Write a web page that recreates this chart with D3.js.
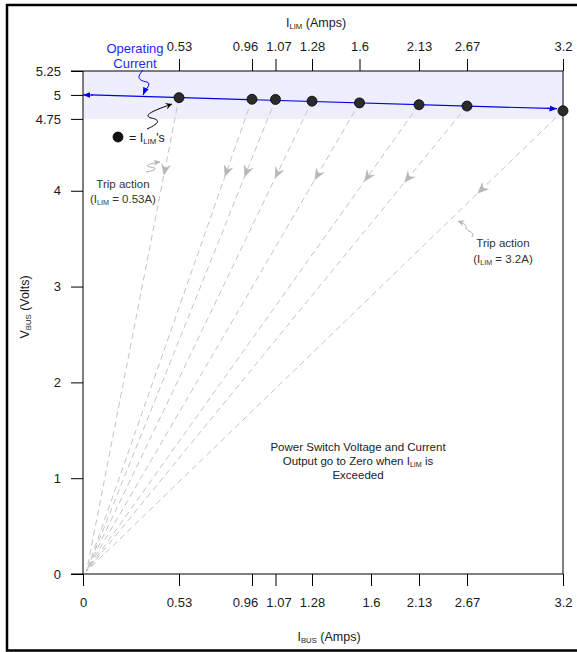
<!DOCTYPE html>
<html>
<head>
<meta charset="utf-8">
<script src="https://cdn.jsdelivr.net/npm/d3@7"></script>
<style>
	body { margin: 0; background: #fff; }
	svg { display: block; font-family: "Liberation Sans", Arial, sans-serif; }
</style>
</head>
<body>
<div id="chart"></div>
<script>
// values
var ilimTicks = [0.53, 0.96, 1.07, 1.28, 1.6, 2.13, 2.67, 3.2];
var ibusTicks = [0, 0.53, 0.96, 1.07, 1.28, 1.6, 2.13, 2.67, 3.2];
var vbusTicks = [0, 1, 2, 3, 4, 4.75, 5, 5.25];
var tripCurrents = [0.53, 0.96, 1.07, 1.28, 1.6, 2.13, 2.67, 3.2];
var tripVolts = [4.972, 4.955, 4.953, 4.935, 4.917, 4.898, 4.884, 4.835];
var operatingLine = [[0, 5.0], [3.2, 4.855]];
var operatingBand = [4.75, 5.25];
var collapsePoint = [0.02, 0.03];

var width = 577, height = 652;
var plotLeft = 83, plotRight = 563, plotTop = 71, plotBottom = 574;

var svg = d3.select("#chart").append("svg")
	.attr("width", width)
	.attr("height", height);

// the drawing's current axes are hand spaced, so the scales are piecewise
var xTop = d3.scaleLinear()
	.domain([0].concat(ilimTicks))
	.range([0, 96, 169, 192.5, 229, 276.5, 336, 384, 480].map(function(d){ return plotLeft + d; }));

var xBottom = d3.scaleLinear()
	.domain(ibusTicks)
	.range([0, 96, 169, 192.5, 229, 288, 336, 384, 480].map(function(d){ return plotLeft + d; }));

var y = d3.scaleLinear().domain([0, 5.25]).range([plotBottom, plotTop]);

// crowded labels are nudged apart, as in the original
var labelNudge = {0.96: -7, 1.07: 3};

var defs = svg.append("defs");

function marker(id, color, path, w, h)
{
	defs.append("marker")
		.attr("id", id)
		.attr("viewBox", "-10 -5 12 10")
		.attr("refX", 0)
		.attr("refY", 0)
		.attr("markerWidth", w)
		.attr("markerHeight", h)
		.attr("markerUnits", "userSpaceOnUse")
		.attr("orient", "auto")
		.append("path")
			.attr("d", path)
			.attr("fill", color);
}
marker("blueArrow", "#0000e6", "M0,0 L-10,-4 L-10,4 Z", 9, 7.5);
marker("blackArrow", "#000", "M0,0 L-10,-5 L-6,0 L-10,5 Z", 8, 8);
marker("grayArrow", "#b0b0b0", "M0,0 L-10,-5 L-6,0 L-10,5 Z", 8, 8);

// outer frame (its right side runs off the picture)
svg.append("rect")
	.attr("x", 7).attr("y", 5)
	.attr("width", 575).attr("height", 645.5)
	.attr("fill", "none")
	.attr("stroke", "#000")
	.attr("stroke-width", 2.5);

// operating band
svg.append("rect")
	.attr("x", plotLeft)
	.attr("y", y(operatingBand[1]))
	.attr("width", plotRight - plotLeft)
	.attr("height", y(operatingBand[0]) - y(operatingBand[1]))
	.attr("fill", "#eeeefd");

// dashed trip paths from each limit to zero
var trips = tripCurrents.map(function(c, i){ return {i: c, v: tripVolts[i]}; });

svg.append("g")
	.selectAll("line")
	.data(trips)
	.enter()
		.append("line")
			.attr("x1", function(d){ return xTop(d.i); })
			.attr("y1", function(d){ return y(d.v); })
			.attr("x2", xTop(collapsePoint[0]))
			.attr("y2", y(collapsePoint[1]))
			.attr("stroke", "#c4c4c4")
			.attr("stroke-width", 1)
			.attr("stroke-dasharray", "6,4");

svg.append("g")
	.selectAll("path")
	.data(trips)
	.enter()
		.append("path")
			.attr("d", "M0,0 L-12,-5 L-8,0 L-12,5 Z")
			.attr("fill", "#b8b8b8")
			.attr("transform", function(d)
			{
				var x1 = xTop(d.i), y1 = y(d.v);
				var x2 = xTop(collapsePoint[0]), y2 = y(collapsePoint[1]);
				var f = d.i == 3.2 ? 0.18 : 0.165;
				var a = Math.atan2(y2 - y1, x2 - x1) * 180 / Math.PI;
				return "translate(" + (x1 + (x2 - x1) * f) + "," + (y1 + (y2 - y1) * f) + ") rotate(" + a + ")";
			});

// axes lines
var axes = svg.append("g").attr("stroke", "#000").attr("stroke-width", 1).attr("fill", "none");
axes.append("line").attr("x1", plotLeft).attr("x2", plotLeft).attr("y1", plotTop).attr("y2", plotBottom);
axes.append("line").attr("x1", plotRight).attr("x2", plotRight).attr("y1", plotTop).attr("y2", plotBottom);
axes.append("line").attr("x1", plotLeft - 12).attr("x2", plotRight).attr("y1", plotTop).attr("y2", plotTop);
axes.append("line").attr("x1", plotLeft - 12).attr("x2", plotRight).attr("y1", plotBottom).attr("y2", plotBottom);

// left axis
var yAxis = svg.append("g")
	.attr("transform", "translate(" + plotLeft + ",0)")
	.call(d3.axisLeft(y).tickValues(vbusTicks).tickSize(12).tickPadding(10).tickFormat(function(d){ return d; }));

// bottom axis
var xAxisB = svg.append("g")
	.attr("transform", "translate(0," + plotBottom + ")")
	.call(d3.axisBottom(xBottom).tickValues(ibusTicks).tickSize(12).tickPadding(12).tickFormat(function(d){ return d; }));

// top axis
var xAxisT = svg.append("g")
	.attr("transform", "translate(0," + plotTop + ")")
	.call(d3.axisTop(xTop).tickValues(ilimTicks).tickSize(12).tickPadding(8).tickFormat(function(d){ return d; }));

[yAxis, xAxisB, xAxisT].forEach(function(g)
{
	g.select(".domain").remove();
	g.selectAll("text")
		.attr("font-size", 13)
		.attr("font-family", "Liberation Sans, Arial, sans-serif")
		.attr("fill", "#1a1a1a");
	g.selectAll(".tick line").attr("stroke", "#000");
});

[xAxisB, xAxisT].forEach(function(g)
{
	g.selectAll(".tick text")
		.attr("dx", function(d){ return labelNudge[d] || 0; });
});

// operating current line
var opLine = operatingLine.map(function(d){ return [xTop(d[0]), y(d[1])]; });
svg.append("line")
	.attr("x1", opLine[0][0] + 8).attr("y1", opLine[0][1])
	.attr("x2", opLine[1][0] - 14).attr("y2", opLine[1][1] - 0.4)
	.attr("stroke", "#0000e6")
	.attr("stroke-width", 1.2);
svg.append("line")
	.attr("x1", opLine[0][0] + 10).attr("y1", opLine[0][1] + 0.05)
	.attr("x2", opLine[0][0]).attr("y2", opLine[0][1])
	.attr("stroke", "#0000e6").attr("stroke-width", 1.2)
	.attr("marker-end", "url(#blueArrow)");
svg.append("line")
	.attr("x1", opLine[1][0] - 16).attr("y1", opLine[1][1] - 0.45)
	.attr("x2", opLine[1][0] - 6).attr("y2", opLine[1][1] - 0.15)
	.attr("stroke", "#0000e6").attr("stroke-width", 1.2)
	.attr("marker-end", "url(#blueArrow)");

// limit dots
svg.append("g")
	.selectAll("circle")
	.data(trips)
	.enter()
		.append("circle")
			.attr("cx", function(d){ return xTop(d.i); })
			.attr("cy", function(d){ return y(d.v); })
			.attr("r", 5)
			.attr("fill", "#2b2b2b")
			.attr("stroke", "#000")
			.attr("stroke-width", 0.8);

// text with subscripts: parts are [text, isSub]
function richText(g, x, yy, parts, size, color, anchor)
{
	var t = g.append("text")
		.attr("x", x).attr("y", yy)
		.attr("font-size", size)
		.attr("fill", color)
		.attr("text-anchor", anchor || "middle");
	parts.forEach(function(p)
	{
		var s = t.append("tspan").text(p[0]);
		if (p[1])
		{
			s.attr("font-size", size * 0.62).attr("dy", 2);
		}
		else if (t.selectAll("tspan").size() > 1)
		{
			s.attr("dy", -2);
		}
	});
	return t;
}

richText(svg, 316, 27, [["I", 0], ["LIM", 1], [" (Amps)", 0]], 12.5, "#1a1a1a");
richText(svg, 329, 641, [["I", 0], ["BUS", 1], [" (Amps)", 0]], 12.5, "#1a1a1a");
richText(svg, 0, 0, [["V", 0], ["BUS", 1], [" (Volts)", 0]], 12.5, "#1a1a1a")
	.attr("transform", "translate(29,307) rotate(-90)");

// operating current note
svg.append("text").attr("x", 135).attr("y", 53).attr("text-anchor", "middle")
	.attr("font-size", 13).attr("fill", "#1f1fff").text("Operating");
svg.append("text").attr("x", 135).attr("y", 68).attr("text-anchor", "middle")
	.attr("font-size", 13).attr("fill", "#1f1fff").text("Current");
svg.append("path")
	.attr("d", "M143,70 C138,76 136,80 147,82 C152,84 146,88 143,95")
	.attr("fill", "none").attr("stroke", "#0000e6").attr("stroke-width", 1)
	.attr("marker-end", "url(#blueArrow)");

// legend
svg.append("circle").attr("cx", 118).attr("cy", 137).attr("r", 5)
	.attr("fill", "#111").attr("stroke", "#000").attr("stroke-width", 0.8);
richText(svg, 129, 141.5, [["= I", 0], ["LIM", 1], ["'s", 0]], 12.5, "#1a1a1a", "start");
svg.append("path")
	.attr("d", "M147,129 C158,124 162,120 151,118 C141,115 158,109 172,104")
	.attr("fill", "none").attr("stroke", "#000").attr("stroke-width", 1)
	.attr("marker-end", "url(#blackArrow)");

// trip action notes
svg.append("text").attr("x", 123).attr("y", 188).attr("text-anchor", "middle")
	.attr("font-size", 11.5).attr("fill", "#333").text("Trip action");
richText(svg, 123, 203, [["(I", 0], ["LIM", 1], [" = 0.53A)", 0]], 11.5, "#333");
svg.append("path")
	.attr("d", "M146,172 C157,170 158,168 150,167 C143,166 151,163 160,162")
	.attr("fill", "none").attr("stroke", "#b0b0b0").attr("stroke-width", 1)
	.attr("marker-end", "url(#grayArrow)");

svg.append("text").attr("x", 503).attr("y", 247).attr("text-anchor", "middle")
	.attr("font-size", 11.5).attr("fill", "#333").text("Trip action");
richText(svg, 503, 263, [["(I", 0], ["LIM", 1], [" = 3.2A)", 0]], 11.5, "#333");
svg.append("path")
	.attr("d", "M472,237 C476,231 466,232 466,228 C466,224 463,223 458,221")
	.attr("fill", "none").attr("stroke", "#b0b0b0").attr("stroke-width", 1)
	.attr("marker-end", "url(#grayArrow)");

// centre note
svg.append("text").attr("x", 358).attr("y", 451).attr("text-anchor", "middle")
	.attr("font-size", 11.5).attr("fill", "#222").text("Power Switch Voltage and Current");
richText(svg, 358, 465, [["Output go to Zero when I", 0], ["LIM", 1], [" is", 0]], 11.5, "#222");
svg.append("text").attr("x", 358).attr("y", 479).attr("text-anchor", "middle")
	.attr("font-size", 11.5).attr("fill", "#222").text("Exceeded");
</script>
</body>
</html>
